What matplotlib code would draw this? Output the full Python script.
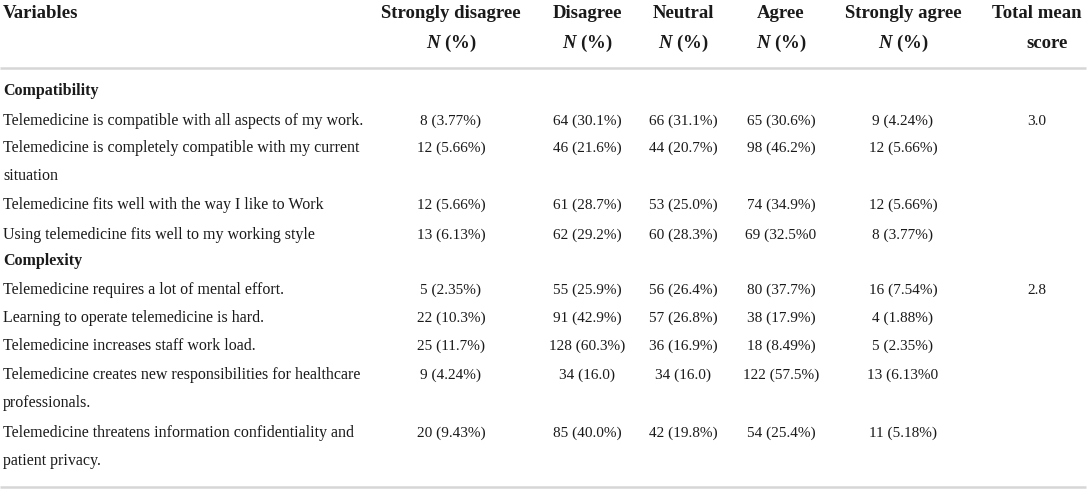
import matplotlib.pyplot as plt

# 表头
headers = ["Strongly disagree", "Disagree", "Neutral", "Agree", "Strongly agree"]
sections = ["Compatibility", "Complexity"]

# 每行的变量（可能两行）
variables = [
    ["Telemedicine is compatible with all aspects of my work."],
    ["Telemedicine is completely compatible with my current", "situation"],
    ["Telemedicine fits well with the way I like to Work"],
    ["Using telemedicine fits well to my working style"],
    ["Telemedicine requires a lot of mental effort."],
    ["Learning to operate telemedicine is hard."],
    ["Telemedicine increases staff work load."],
    ["Telemedicine creates new responsibilities for healthcare", "professionals."],
    ["Telemedicine threatens information confidentiality and", "patient privacy."],
]

strongly_disagree = ["8 (3.77%)", "12 (5.66%)", "12 (5.66%)", "13 (6.13%)",
                     "5 (2.35%)", "22 (10.3%)", "25 (11.7%)", "9 (4.24%)", "20 (9.43%)"]
disagree = ["64 (30.1%)", "46 (21.6%)", "61 (28.7%)", "62 (29.2%)",
            "55 (25.9%)", "91 (42.9%)", "128 (60.3%)", "34 (16.0)", "85 (40.0%)"]
neutral = ["66 (31.1%)", "44 (20.7%)", "53 (25.0%)", "60 (28.3%)",
           "56 (26.4%)", "57 (26.8%)", "36 (16.9%)", "34 (16.0)", "42 (19.8%)"]
agree = ["65 (30.6%)", "98 (46.2%)", "74 (34.9%)", "69 (32.5%0",
         "80 (37.7%)", "38 (17.9%)", "18 (8.49%)", "122 (57.5%)", "54 (25.4%)"]
strongly_agree = ["9 (4.24%)", "12 (5.66%)", "12 (5.66%)", "8 (3.77%)",
                  "16 (7.54%)", "4 (1.88%)", "5 (2.35%)", "13 (6.13%0", "11 (5.18%)"]
mean_score = ["3.0", "", "", "", "2.8", "", "", "", ""]


def show_table():
    plt.rcParams['font.family'] = ['Liberation Serif', 'DejaVu Serif']
    plt.rcParams['mathtext.fontset'] = 'custom'
    plt.rcParams['mathtext.rm'] = 'Liberation Serif:bold'
    plt.rcParams['mathtext.it'] = 'Liberation Serif:italic:bold'
    plt.rcParams['mathtext.bf'] = 'Liberation Serif:bold'
    plt.rcParams['text.color'] = '#1a1a1a'

    fig = plt.figure(figsize=(10.89, 4.90), dpi=100)
    ax = fig.add_axes([0, 0, 1, 1])
    ax.set_xlim(0, 1089)
    ax.set_ylim(490, 0)
    ax.axis("off")

    col_x = [451, 587, 683, 781, 903]
    mean_x = 1037
    hsize = 13.5
    bsize = 11.5
    nsize = 11
    wrap = 28

    # 表头
    ax.text(3, 13, "Variables", fontsize=hsize, fontweight="bold", va="center", ha="left")
    for x, h in zip(col_x, headers):
        ax.text(x, 13, h, fontsize=hsize, fontweight="bold", va="center", ha="center")
        ax.text(x, 43, r"$\mathit{N}$ (%)", fontsize=hsize, fontweight="bold",
                va="center", ha="center")
    ax.text(mean_x, 13, "Total mean", fontsize=hsize, fontweight="bold", va="center", ha="center")
    ax.text(mean_x + 10, 43, "score", fontsize=hsize, fontweight="bold", va="center", ha="center")

    # 分隔线
    ax.plot([0, 1086], [68, 68], color="#d6d6d6", lw=1.8, solid_capstyle="butt")
    ax.plot([0, 1086], [487, 487], color="#d6d6d6", lw=1.8, solid_capstyle="butt")

    section_y = [91, 261]
    row_y = [121, 148, 205, 235, 290, 318, 346, 375, 433]
    for s, y in zip(sections, section_y):
        ax.text(3, y, s, fontsize=bsize, fontweight="bold", va="center", ha="left")

    columns = [strongly_disagree, disagree, neutral, agree, strongly_agree]
    for i, y in enumerate(row_y):
        for k, line in enumerate(variables[i]):
            ax.text(3, y + wrap * k, line, fontsize=bsize, va="center", ha="left")
        for x, col in zip(col_x, columns):
            ax.text(x, y, col[i], fontsize=nsize, va="center", ha="center")
        if mean_score[i]:
            ax.text(mean_x, y, mean_score[i], fontsize=nsize, va="center", ha="center")

    fig.savefig("out.png", dpi=100)


if __name__ == '__main__':
    show_table()
